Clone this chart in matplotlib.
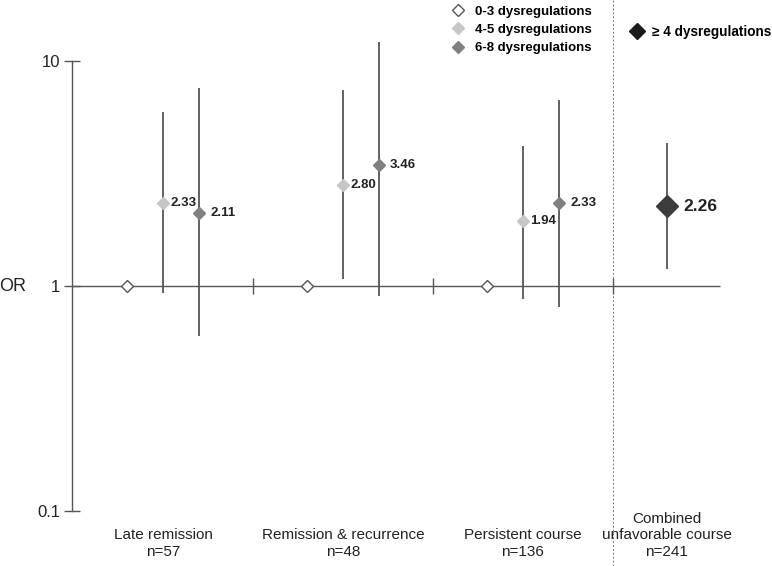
import matplotlib
matplotlib.use("Agg")
import matplotlib.pyplot as plt
from matplotlib.lines import Line2D
from matplotlib.transforms import blended_transform_factory

plt.rcParams["font.family"] = ["Liberation Sans", "DejaVu Sans"]

# group labels and data (odds ratios with 95% CI)
groups = ["Late remission\nn=57", "Remission & recurrence\nn=48", "Persistent course\nn=136"]
combined_label = "Combined\nunfavorable course\nn=241"

or_mid = [2.33, 2.80, 1.94]      # 4-5 dysregulations
lo_mid = [0.93, 1.07, 0.88]
hi_mid = [5.9, 7.4, 4.2]

or_high = [2.11, 3.46, 2.33]     # 6-8 dysregulations
lo_high = [0.60, 0.90, 0.81]
hi_high = [7.6, 12.1, 6.7]

or_comb = 2.26                   # >= 4 dysregulations
lo_comb = 1.19
hi_comb = 4.3

ref_or = 1.0                     # 0-3 dysregulations (reference)

C_LINE = "#555555"
C_LIGHT = "#c6c6c6"
C_DARK = "#808080"
C_BIG = "#3c3c3c"

fig = plt.figure(figsize=(7.72, 5.66), dpi=100)
ax = fig.add_axes([0, 0, 1, 1])
ax.set_yscale("log")
ax.set_xlim(-3.53, 17.92)
ax.set_ylim(0.0573, 18.6)

for s in ["top", "right", "bottom"]:
    ax.spines[s].set_visible(False)
ax.spines["left"].set_position(("data", -1.53))
ax.spines["left"].set_bounds(0.1, 10)
ax.spines["left"].set_color(C_LINE)
ax.spines["left"].set_linewidth(1.0)
ax.set_yticks([0.1, 1, 10])
ax.set_yticklabels(["0.1", "1", "10"])
ax.minorticks_off()
ax.tick_params(axis="y", which="major", direction="inout", length=11, width=1.0,
               color=C_LINE, labelsize=12, pad=3, labelcolor="#222222")
ax.set_xticks([])

# baseline at OR = 1
ax.hlines(1, -1.53, 16.47, color=C_LINE, lw=1.0, zorder=1)

# separator ticks on the baseline
seps = [3.5, 8.5, 13.5]
ax.plot(seps, [1] * len(seps), ls="none", marker="|", ms=11, mew=1.0, color=C_LINE, zorder=2)

# dashed divider before combined group
ax.axvline(13.5, ymin=0, ymax=1, color="#777777", lw=0.7, ls=(0, (2, 2)), zorder=1)

for i, lab in enumerate(groups):
    x0 = i * 5
    # reference
    ax.plot(x0, ref_or, marker="D", ms=6.5, mfc="white", mec="#555555", mew=1.0, zorder=4)
    # 4-5
    ax.vlines(x0 + 1, lo_mid[i], hi_mid[i], color=C_LINE, lw=1.3, zorder=2)
    ax.plot(x0 + 1, or_mid[i], marker="D", ms=6, mfc=C_LIGHT, mec=C_LIGHT, zorder=4)
    ax.annotate(f"{or_mid[i]:.2f}", (x0 + 1, or_mid[i]), xytext=(5.5, 0),
                textcoords="offset points", va="center", ha="left",
                fontsize=9.5, fontweight="bold", color="#222222")
    # 6-8
    ax.vlines(x0 + 2, lo_high[i], hi_high[i], color=C_LINE, lw=1.3, zorder=2, clip_on=False)
    ax.plot(x0 + 2, or_high[i], marker="D", ms=6, mfc=C_DARK, mec=C_DARK, zorder=4)
    ax.annotate(f"{or_high[i]:.2f}", (x0 + 2, or_high[i]), xytext=(8, 0),
                textcoords="offset points", va="center", ha="left",
                fontsize=9.5, fontweight="bold", color="#222222")

# combined group
ax.vlines(15, lo_comb, hi_comb, color=C_LINE, lw=1.3, zorder=2)
ax.plot(15, or_comb, marker="D", ms=11, mfc=C_BIG, mec=C_BIG, zorder=4)
ax.annotate(f"{or_comb:.2f}", (15, or_comb), xytext=(11.5, 0),
            textcoords="offset points", va="center", ha="left",
            fontsize=12.5, fontweight="bold", color="#222222")

# category labels
trans = blended_transform_factory(ax.transData, ax.transAxes)
for i, lab in enumerate(groups):
    ax.text(i * 5 + 1, 0.012, lab, transform=trans, ha="center", va="bottom",
            fontsize=11, linespacing=1.25, color="#222222")
ax.text(15, 0.012, combined_label, transform=trans, ha="center", va="bottom",
        fontsize=11, linespacing=1.25, color="#222222")

# "OR" label
ax.text(-3.18, 1, "OR", ha="center", va="center", fontsize=13, color="#222222")

# legends
h1 = [
    Line2D([], [], ls="none", marker="D", ms=6.5, mfc="white", mec="#555555", mew=1.0),
    Line2D([], [], ls="none", marker="D", ms=6, mfc=C_LIGHT, mec=C_LIGHT),
    Line2D([], [], ls="none", marker="D", ms=6, mfc=C_DARK, mec=C_DARK),
]
leg1 = ax.legend(h1, ["0-3 dysregulations", "4-5 dysregulations", "6-8 dysregulations"],
                 loc="upper left", bbox_to_anchor=(449 / 772, 1 - 3 / 566), frameon=False,
                 numpoints=1, handlelength=1.0, handletextpad=0.75, labelspacing=0.45,
                 borderaxespad=0, borderpad=0.2,
                 prop={"weight": "bold", "size": 9.5})
ax.add_artist(leg1)
h2 = [Line2D([], [], ls="none", marker="D", ms=8.5, mfc="#1a1a1a", mec="#1a1a1a")]
ax.legend(h2, ["\u2265 4 dysregulations"], loc="upper left",
          bbox_to_anchor=(627 / 772, 1 - 22 / 566), frameon=False, numpoints=1,
          handlelength=1.0, handletextpad=0.6, borderaxespad=0, borderpad=0.2,
          prop={"weight": "bold", "size": 9.8})

fig.savefig("out.png", dpi=100)
